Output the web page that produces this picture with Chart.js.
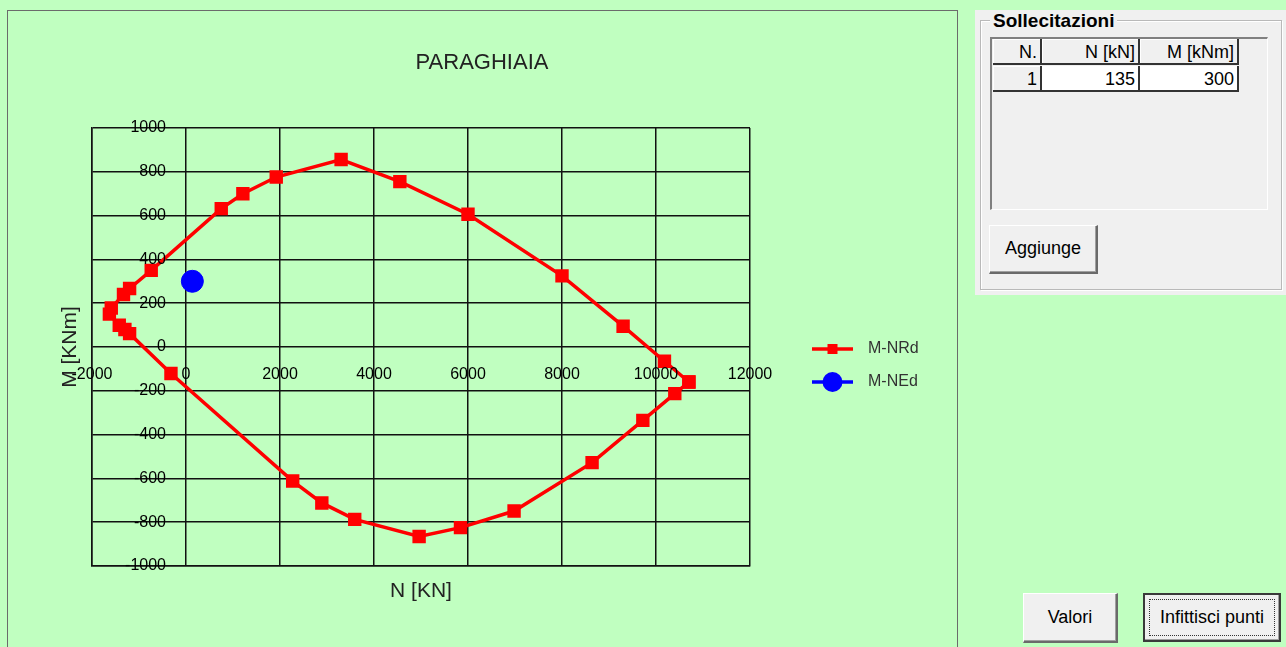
<!DOCTYPE html>
<html>
<head>
<meta charset="utf-8">
<script src="https://cdn.jsdelivr.net/npm/chart.js@4.4.1/dist/chart.umd.min.js"></script>
<style>
  body { margin: 0; width: 1286px; height: 647px; background: #c0ffc0; position: relative; overflow: hidden;
         font-family: "Liberation Sans", Arial, sans-serif; color: #111; }
  #panel { position: absolute; left: 7px; top: 10px; width: 949px; height: 640px;
           border: 1px solid #6b6b6b; border-bottom: none; }
  #panel canvas { position: absolute; left: 0; top: 0; }

  #box { position: absolute; left: 975px; top: 10px; width: 320px; height: 285px; background: #f0f0f0; }
  #frame { position: absolute; left: 5px; top: 10px; width: 300px; height: 268px;
           border: 1px solid #b9b9b9; box-shadow: inset 1px 1px 0 #fff, 1px 1px 0 #fff; }
  #caption { position: absolute; left: 15px; top: 0; padding: 0 3px; background: #f0f0f0;
             font-weight: bold; font-size: 19px; line-height: 22px; color: #000; }
  #grid { position: absolute; left: 15px; top: 27px; width: 275px; height: 170px;
          border-top: 2px solid #808080; border-left: 2px solid #808080;
          border-right: 1px solid #fff; border-bottom: 1px solid #fff; background: #f0f0f0; }
  .c { position: absolute; height: 26px; line-height: 27px; font-size: 18px; text-align: right;
       padding-right: 3px; box-sizing: border-box; color: #000; }
  .h { background: #f0f0f0; border-right: 2px solid #333; border-bottom: 2px solid #333;
       box-shadow: inset 1px 1px 0 #fff; }
  .w { background: #fff; border-right: 2px solid #333; border-bottom: 2px solid #333; }
  .btn { position: absolute; background: #f0f0f0; font-size: 18px; text-align: center; color: #000;
         border-top: 1px solid #fff; border-left: 1px solid #fff;
         border-right: 2px solid #6a6a6a; border-bottom: 2px solid #6a6a6a; box-sizing: border-box;
         box-shadow: inset -1px -1px 0 #a0a0a0; }
  .def { border: 2px solid #3a3a3a; }
  .def span { position: absolute; left: 4px; top: 4px; right: 4px; bottom: 4px; border: 1px dotted #333; }
</style>
</head>
<body>

<div id="panel"><canvas id="mnChart" width="948" height="636"></canvas></div>

<div id="box">
  <div id="frame"></div>
  <div id="caption">Sollecitazioni</div>
  <div id="grid">
    <div class="c h" style="left:1px;top:0;width:49px">N.</div>
    <div class="c h" style="left:50px;top:0;width:98px">N [kN]</div>
    <div class="c h" style="left:148px;top:0;width:99px">M [kNm]</div>
    <div class="c h" style="left:1px;top:27px;width:49px">1</div>
    <div class="c w" id="cellN" style="left:50px;top:27px;width:98px"></div>
    <div class="c w" id="cellM" style="left:148px;top:27px;width:99px"></div>
  </div>
  <div class="btn" style="left:14px;top:215px;width:109px;height:49px;line-height:45px">Aggiunge</div>
</div>

<div class="btn" style="left:1023px;top:593px;width:95px;height:50px;line-height:46px">Valori</div>
<div class="btn def" style="left:1143px;top:593px;width:138px;height:49px;line-height:45px"><span></span>Infittisci punti</div>

<script>
// resisting domain M-NRd (N in kN, M in kNm)
const nRd = [10700, 10180, 9300, 8000, 6000, 4550, 3300, 1920, 1210, 750, -740, -1200, -1330, -1590, -1630, -1420, -1300, -1200, -320, 2270, 2890, 3590, 4960, 5840, 6980, 8640, 9720, 10400, 10700];
const mRd = [-160, -65, 95, 325, 606, 755, 856, 776, 700, 632, 350, 267, 240, 178, 150, 99, 80, 61, -121, -612, -712, -787, -865, -825, -749, -528, -335, -213, -160];

// acting load M-NEd
const nEd = [135];
const mEd = [300];

// tick labels
const xTicks = [-2000, 0, 2000, 4000, 6000, 8000, 10000, 12000];
const yTicks = [-1000, -800, -600, -400, -200, 0, 200, 400, 600, 800, 1000];

document.getElementById('cellN').textContent = nEd[0];
document.getElementById('cellM').textContent = mEd[0];

const FONT = '"Liberation Sans", Arial, sans-serif';

// labels at the axes crossing, titles and legend
const overlay = {
  id: 'overlay',
  afterDraw(chart) {
    const { ctx, chartArea: a, scales: { x, y } } = chart;
    const x0 = x.getPixelForValue(0);
    const y0 = y.getPixelForValue(0);
    ctx.save();
    ctx.fillStyle = '#000';
    ctx.font = '16px ' + FONT;
    ctx.textAlign = 'right';
    ctx.textBaseline = 'middle';
    yTicks.forEach(v => ctx.fillText(String(v), x0 - 20, y.getPixelForValue(v)));
    ctx.textAlign = 'center';
    xTicks.forEach(v => ctx.fillText(String(v), x.getPixelForValue(v), y0 + 28));

    // title and axis titles
    ctx.fillStyle = '#222';
    ctx.font = '22px ' + FONT;
    ctx.fillText('PARAGHIAIA', chart.width / 2, 52);
    ctx.font = '21px ' + FONT;
    ctx.fillText('N [KN]', (a.left + a.right) / 2, a.bottom + 25);
    ctx.save();
    ctx.translate(62, (a.top + a.bottom) / 2);
    ctx.rotate(-Math.PI / 2);
    ctx.fillText('M [KNm]', 0, 0);
    ctx.restore();

    // legend
    ctx.font = '16px ' + FONT;
    ctx.textAlign = 'left';
    chart.data.datasets.forEach((ds, i) => {
      const ly = 338 + i * 33;
      ctx.strokeStyle = ds.borderColor;
      ctx.lineWidth = 3.5;
      ctx.beginPath();
      ctx.moveTo(804, ly);
      ctx.lineTo(845, ly);
      ctx.stroke();
      ctx.fillStyle = ds.backgroundColor;
      if (ds.pointStyle === 'rect') {
        ctx.fillRect(824.5 - 5, ly - 5, 10, 10);
      } else {
        ctx.beginPath();
        ctx.arc(824.5, ly, 10, 0, Math.PI * 2);
        ctx.fill();
      }
      ctx.fillStyle = '#333';
      ctx.fillText(ds.label, 860, ly);
    });
    ctx.restore();
  }
};

new Chart(document.getElementById('mnChart'), {
  type: 'scatter',
  data: {
    datasets: [{
      label: 'M-NRd',
      data: nRd.map((n, i) => ({ x: n, y: mRd[i] })),
      showLine: true,
      borderColor: '#ff0000',
      backgroundColor: '#ff0000',
      borderWidth: 3.5,
      pointStyle: 'rect',
      pointRadius: 7,
      pointHoverRadius: 7,
      tension: 0
    }, {
      label: 'M-NEd',
      data: nEd.map((n, i) => ({ x: n, y: mEd[i] })),
      borderColor: '#0000ff',
      backgroundColor: '#0000ff',
      pointStyle: 'circle',
      pointRadius: 11,
      pointHoverRadius: 11
    }]
  },
  options: {
    responsive: false,
    animation: false,
    devicePixelRatio: 1,
    layout: { padding: { left: 84, top: 117, right: 206, bottom: 81 } },
    plugins: { legend: { display: false }, tooltip: { enabled: false }, title: { display: false } },
    scales: {
      x: {
        type: 'linear', min: -2000, max: 12000,
        ticks: { stepSize: 2000, display: false },
        grid: { color: '#111', lineWidth: 1.5, drawTicks: false },
        border: { display: true, color: '#111', width: 1.5 }
      },
      y: {
        type: 'linear', min: -1000, max: 1000,
        ticks: { stepSize: 200, display: false },
        grid: { color: '#111', lineWidth: 1.5, drawTicks: false },
        border: { display: true, color: '#111', width: 1.5 }
      }
    }
  },
  plugins: [overlay]
});
</script>
</body>
</html>
